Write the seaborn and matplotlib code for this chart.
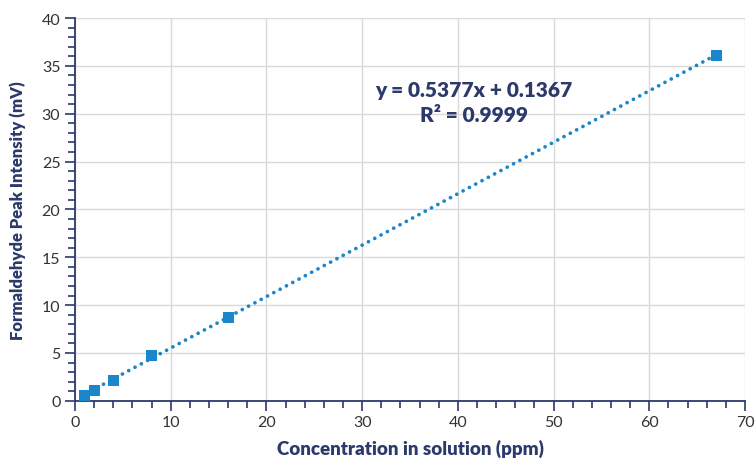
import numpy as np
import pandas as pd
import matplotlib
matplotlib.use("Agg")
import matplotlib.pyplot as plt
import seaborn as sns
from matplotlib.ticker import MultipleLocator

# data
conc = [1, 2, 4, 8, 16, 67]
intensity = [0.55, 1.05, 2.15, 4.7, 8.7, 36.1]
slope, intercept = 0.5377, 0.1367

df = pd.DataFrame({"conc": conc, "intensity": intensity})

sns.set_style("whitegrid")
plt.rcParams['font.family'] = ['Lato', 'DejaVu Sans']

navy = "#2b3a6b"
blue = "#1b86c9"

fig = plt.figure(figsize=(7.55, 4.64), dpi=100)
ax = fig.add_axes([0.0993, 0.134, 0.8875, 0.825])

# dotted trendline
xl = np.array([conc[0], conc[-1]])
ax.plot(xl, slope * xl + intercept, linestyle=(0, (0.01, 1.9)), color=blue,
        linewidth=2.7, dash_capstyle="round", zorder=2)
sns.scatterplot(data=df, x="conc", y="intensity", marker="s", s=64,
                color=blue, edgecolor="none", ax=ax, zorder=3)

ax.set_xlim(0, 70)
ax.set_ylim(0, 40)
ax.xaxis.set_major_locator(MultipleLocator(10))
ax.xaxis.set_minor_locator(MultipleLocator(2))
ax.yaxis.set_major_locator(MultipleLocator(5))
ax.yaxis.set_minor_locator(MultipleLocator(1))

ax.grid(True, which="major", color="#d9d9d9", linewidth=1)
ax.grid(False, which="minor")
for s in ["top", "right"]:
    ax.spines[s].set_visible(False)
for s in ["left", "bottom"]:
    ax.spines[s].set_color(navy)
    ax.spines[s].set_linewidth(1.3)

ax.tick_params(which="major", direction="out", length=7, width=1.2, color=navy,
               labelsize=11.5, labelcolor="#333333", left=True, bottom=True)
ax.tick_params(which="minor", direction="out", length=5, width=1.2, color=navy,
               left=True, bottom=True)

ax.set_xlabel("Concentration in solution (ppm)", fontsize=13.5, fontweight="heavy",
              color=navy, labelpad=7)
ax.set_ylabel("Formaldehyde Peak Intensity (mV)", fontsize=12, fontweight="heavy",
              color=navy, labelpad=11)

fig.text(474 / 755, 1 - 91 / 464, "y = 0.5377x + 0.1367", fontsize=15,
         fontweight="heavy", color=navy, ha="center", va="center")
fig.text(474 / 755, 1 - 116 / 464, "R\u00b2 = 0.9999", fontsize=15,
         fontweight="heavy", color=navy, ha="center", va="center")

fig.savefig("out.png", dpi=100)
